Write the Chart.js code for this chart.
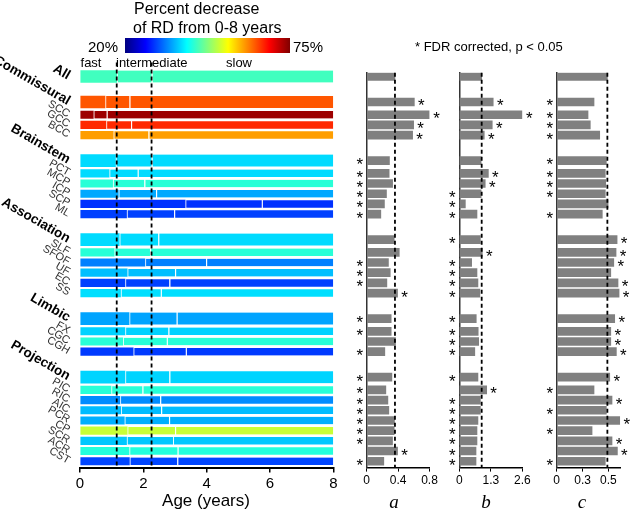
<!DOCTYPE html>
<html>
<head>
<meta charset="utf-8">
<script src="https://cdn.jsdelivr.net/npm/chart.js@4.4.1/dist/chart.umd.min.js"></script>
<style>
  body { margin: 0; background: #fff; }
  #fig { position: relative; width: 633px; height: 512px; overflow: hidden; font-family: 'Liberation Sans', Arial, sans-serif; color: #000; }
  #fig canvas { position: absolute; top: 0; }
  .lbl { position: absolute; white-space: nowrap; line-height: 1; transform: translateY(-50%); }
  .mid { transform: translate(-50%, -50%); }
  .pan { font-family: 'Liberation Serif', 'Times New Roman', serif; font-style: italic; font-size: 19px; }
  #cbar { position: absolute; left: 125px; top: 38px; width: 165px; height: 15px; }
</style>
</head>
<body>
<div id="fig">
  <canvas id="heat" width="345" height="512" style="left:0"></canvas>
  <canvas id="panA" width="105" height="512" style="left:340px"></canvas>
  <canvas id="panB" width="95" height="512" style="left:440px"></canvas>
  <canvas id="panC" width="95" height="512" style="left:538px"></canvas>

  <div class="lbl" style="left:134px;top:9px;font-size:16px">Percent decrease</div>
  <div class="lbl" style="left:133px;top:28px;font-size:16px">of RD from 0-8 years</div>
  <div id="cbar"></div>
  <div class="lbl" style="right:515px;top:46px;font-size:15px">20%</div>
  <div class="lbl" style="left:293px;top:46px;font-size:15px">75%</div>
  <div class="lbl mid" style="left:91px;top:62px;font-size:13px">fast</div>
  <div class="lbl" style="left:116px;top:62px;font-size:13px">intermediate</div>
  <div class="lbl mid" style="left:239px;top:62px;font-size:13px">slow</div>
  <div class="lbl" style="left:415px;top:46px;font-size:13px">* FDR corrected, p &lt; 0.05</div>
  <div class="lbl mid" style="left:206px;top:500px;font-size:17px">Age (years)</div>
  <div class="lbl mid pan" style="left:394px;top:501px">a</div>
  <div class="lbl mid pan" style="left:486px;top:501px">b</div>
  <div class="lbl mid pan" style="left:582px;top:501px">c</div>
</div>
<script>
// rows top to bottom; group rows are drawn thicker and labelled in bold
const rows = ['All', 'Commissural', 'SCC', 'GCC', 'BCC',
  'Brainstem', 'PCT', 'MCP', 'ICP', 'SCP', 'ML',
  'Association', 'SLF', 'SFOF', 'UF', 'EC', 'SS',
  'Limbic', 'FX', 'CGC', 'CGH',
  'Projection', 'PIC', 'RIC', 'AIC', 'PCR', 'CP', 'SCR', 'ACR', 'CST'];
const groups = ['All', 'Commissural', 'Brainstem', 'Association', 'Limbic', 'Projection'];

// phase boundaries (years): end of fast phase, end of intermediate phase
const fastEnd = [1.16, 0.79, 0.42, 0.82, 1.05, 1.12, 0.92, 1.03, 1.21, 3.32, 1.47,
  1.24, 1.08, 2.05, 1.49, 1.42, 1.28, 1.55, 1.42, 1.35, 1.68,
  1.42, 0.98, 1.26, 1.29, 1.40, 1.49, 1.47, 1.55, 1.56];
const midEnd = [2.26, 1.56, 0.84, 1.61, 2.16, 2.26, 1.82, 2.03, 2.40, 5.74, 2.97,
  2.47, 2.21, 3.98, 3.00, 2.82, 2.55, 3.05, 2.79, 2.74, 3.34,
  2.82, 1.97, 2.53, 2.56, 2.81, 3.00, 2.93, 3.08, 3.07];
const ageMax = 8;

// percent decrease of RD from 0-8 years (colour)
const rdDecrease = [44.1, 63.5, 73.4, 65.9, 59.6, 38.7, 38.7, 42.8, 36.0, 29.5, 30.3,
  38.7, 42.8, 33.8, 37.2, 30.3, 38.9, 35.7, 38.2, 42.8, 30.0,
  38.3, 42.8, 34.4, 37.0, 36.3, 51.4, 37.6, 42.5, 30.6];
const cbMin = 20, cbMax = 75;

// model parameters a, b, c per tract (first entry = All, drawn as dashed reference)
const paramA = [0.36, 0.607, 0.80, 0.598, 0.585, 0.29, 0.286, 0.33, 0.252, 0.226, 0.18,
  0.35, 0.415, 0.277, 0.30, 0.257, 0.393, 0.312, 0.312, 0.367, 0.231,
  0.321, 0.244, 0.27, 0.282, 0.354, 0.35, 0.329, 0.393, 0.218];
const paramB = [0.924, 1.40, 2.60, 1.36, 1.03, 0.90, 1.20, 1.07, 0.90, 0.25, 0.73,
  0.87, 0.95, 0.51, 0.73, 0.77, 0.85, 0.70, 0.78, 0.80, 0.64,
  0.77, 1.13, 0.87, 0.87, 0.77, 0.73, 0.73, 0.69, 0.69];
const paramC = [0.49, 0.361, 0.303, 0.325, 0.416, 0.48, 0.47, 0.474, 0.47, 0.497, 0.441,
  0.584, 0.574, 0.552, 0.523, 0.593, 0.603, 0.561, 0.523, 0.523, 0.577,
  0.513, 0.361, 0.535, 0.48, 0.61, 0.342, 0.535, 0.587, 0.47];

// FDR significance (1 = starred)
const sigA = [0, 1, 1, 1, 1, 1, 1, 1, 1, 1, 1, 0, 0, 1, 1, 1, 1, 1, 1, 0, 1, 1, 1, 1, 1, 1, 1, 1, 1, 1];
const sigB = [0, 1, 1, 1, 1, 0, 1, 1, 1, 1, 1, 1, 1, 1, 1, 1, 1, 1, 1, 1, 1, 1, 1, 1, 1, 1, 1, 1, 1, 1];
const sigC = [0, 1, 1, 1, 1, 1, 1, 1, 1, 0, 1, 1, 1, 1, 0, 1, 1, 1, 1, 1, 1, 1, 1, 1, 1, 1, 1, 1, 1, 1];

const aTicks = { max: 0.8, step: 0.4 };
const bTicks = { max: 2.6, step: 1.3 };
const cTicks = { max: 0.615, step: 0.25 };

Chart.defaults.font.family = "'Liberation Sans', Arial, sans-serif";

function jet(pct) {
  const t = (pct - cbMin) / (cbMax - cbMin);
  const c = v => Math.round(255 * Math.max(0, Math.min(1, 1.5 - Math.abs(4 * t - v))));
  return `rgb(${c(3)},${c(2)},${c(1)})`;
}
const stops = [];
for (let k = 0; k <= 16; k++) stops.push(jet(cbMin + (cbMax - cbMin) * k / 16) + ' ' + (k * 100 / 16) + '%');
document.getElementById('cbar').style.background = `linear-gradient(to right, ${stops.join(',')})`;

// category slots: spacer labels give the gaps between tract groups
function buildSlots(lead, trail) {
  const labels = Array(lead).fill('');
  const index = [];
  rows.forEach((r, i) => {
    if (i > 0) {
      const gap = groups.includes(r) ? 10 : (groups.includes(rows[i - 1]) ? 5 : 4);
      for (let k = 1; k < gap; k++) labels.push('');
    }
    index.push(labels.length);
    labels.push(r);
  });
  for (let k = 0; k < trail; k++) labels.push('');
  return { labels, index };
}
const heatSlots = buildSlots(5, 2);
const barSlots = buildSlots(1, 2);

function spread(slots, fn, keep) {
  const out = slots.labels.map(() => null);
  slots.index.forEach((s, i) => { if (keep(i)) out[s] = fn(i); });
  return out;
}
const isGroup = i => groups.includes(rows[i]);

// ── HEAT BARS ──
const segFrom = [() => 0, i => fastEnd[i], i => midEnd[i]];
const segTo = [i => fastEnd[i], i => midEnd[i], () => ageMax];
const heatSets = [];
[true, false].forEach(grp => {
  [0, 1, 2].forEach(seg => {
    heatSets.push({
      data: spread(heatSlots, i => [segFrom[seg](i), segTo[seg](i)], i => isGroup(i) === grp),
      backgroundColor: spread(heatSlots, i => jet(rdDecrease[i]), () => true),
      borderColor: '#fff',
      borderWidth: seg ? { left: 1.5, right: 0, top: 0, bottom: 0 } : 0,
      borderSkipped: false,
      barThickness: grp ? 12 : 7.5,
      grouped: false
    });
  });
});

const phaseLines = {
  id: 'phaseLines',
  afterDatasetsDraw(chart) {
    const { ctx, chartArea, scales: { x } } = chart;
    ctx.save();
    ctx.setLineDash([4, 3]); ctx.lineWidth = 1.8; ctx.strokeStyle = '#000';
    [fastEnd[0], midEnd[0]].forEach(v => {
      const px = x.getPixelForValue(v);
      ctx.beginPath(); ctx.moveTo(px, chartArea.top); ctx.lineTo(px, chartArea.bottom); ctx.stroke();
    });
    ctx.restore();
  }
};

new Chart(document.getElementById('heat'), {
  type: 'bar',
  data: { labels: heatSlots.labels, datasets: heatSets },
  options: {
    indexAxis: 'y', responsive: false, animation: false,
    layout: { padding: { left: 0, top: 62.5, right: 11.7, bottom: 0 } },
    plugins: { legend: { display: false }, tooltip: { enabled: false } },
    scales: {
      x: {
        type: 'linear', min: 0, max: ageMax,
        afterFit: s => { s.height = 44.4; },
        ticks: { stepSize: 2, font: { size: 15 }, color: '#000', padding: 2 },
        grid: { drawOnChartArea: false, tickLength: 5, color: '#000', tickColor: '#000', lineWidth: 1.5 },
        border: { color: '#000', width: 2 }
      },
      y: {
        afterFit: s => { s.width = 80; },
        grid: { display: false }, border: { display: false },
        ticks: {
          autoSkip: false, minRotation: -30, maxRotation: -30, padding: 3,
          color: ctx => groups.includes(ctx.tick.label) ? '#000' : '#333',
          font: ctx => groups.includes(ctx.tick.label) ? { size: 13.5, weight: 'bold' } : { size: 11 }
        }
      }
    }
  },
  plugins: [phaseLines]
});

// ── PARAMETER PANELS ──
const refAndStars = (vals, sig) => ({
  id: 'refAndStars',
  afterDatasetsDraw(chart) {
    const { ctx, chartArea, scales: { x, y } } = chart;
    const ref = x.getPixelForValue(vals[0]);
    ctx.save();
    ctx.setLineDash([4, 3]); ctx.lineWidth = 1.8; ctx.strokeStyle = '#000';
    ctx.beginPath(); ctx.moveTo(ref, chartArea.top); ctx.lineTo(ref, chartArea.bottom); ctx.stroke();
    ctx.fillStyle = '#000'; ctx.font = "17px 'Liberation Sans', Arial"; ctx.textAlign = 'center';
    barSlots.index.forEach((slot, i) => {
      if (!sig[i]) return;
      const py = y.getPixelForValue(slot);
      const px = vals[i] > vals[0] ? x.getPixelForValue(vals[i]) + 7 : chartArea.left - 7;
      ctx.fillText('*', px, py + 9.5);
    });
    ctx.restore();
  }
});

function panel(id, vals, sig, axis, yWidth, padRight) {
  new Chart(document.getElementById(id), {
    type: 'bar',
    data: {
      labels: barSlots.labels,
      datasets: [{ data: spread(barSlots, i => vals[i], () => true), backgroundColor: '#808080', barThickness: 8 }]
    },
    options: {
      indexAxis: 'y', responsive: false, animation: false,
      layout: { padding: { left: 0, top: 72.7, right: padRight, bottom: 0 } },
      plugins: { legend: { display: false }, tooltip: { enabled: false } },
      scales: {
        x: {
          min: 0, max: axis.max,
          afterFit: s => { s.height = 44.4; },
          ticks: { stepSize: axis.step, includeBounds: false, font: { size: 12 }, color: '#000', padding: 2 },
          grid: { drawOnChartArea: false, tickLength: 4, color: '#000', tickColor: '#000' },
          border: { color: '#000', width: 1.5 }
        },
        y: {
          afterFit: s => { s.width = yWidth; },
          ticks: { display: false }, grid: { display: false },
          border: { color: '#333', width: 1.5 }
        }
      }
    },
    plugins: [refAndStars(vals, sig)]
  });
}
panel('panA', paramA, sigA, aTicks, 26.7, 15.5);
panel('panB', paramB, sigB, bTicks, 19.3, 12.7);
panel('panC', paramC, sigC, cTicks, 18.7, 12.7);
</script>
</body>
</html>
